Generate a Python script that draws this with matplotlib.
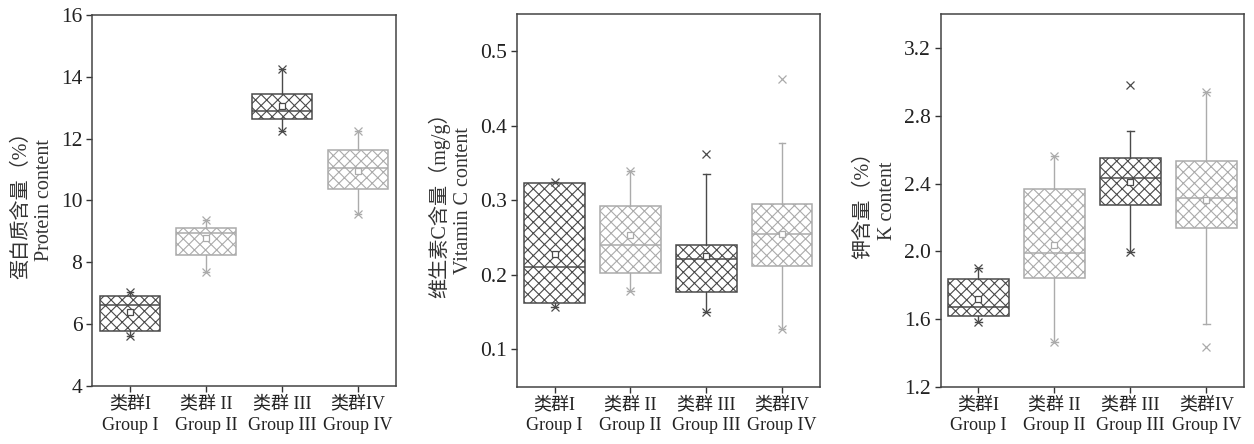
import numpy as np
import matplotlib
matplotlib.use("Agg")
import matplotlib.pyplot as plt

plt.rcParams['font.family'] = ['Liberation Serif', 'Noto Sans CJK SC', 'DejaVu Sans']
plt.rcParams['hatch.linewidth'] = 0.8

groups = ["类群I\nGroup I", "类群 II\nGroup II", "类群 III\nGroup III", "类群IV\nGroup IV"]

# protein content (%)
prot_q1 = [5.78, 8.23, 12.63, 10.38]
prot_med = [6.62, 8.94, 12.89, 11.06]
prot_q3 = [6.92, 9.11, 13.44, 11.62]
prot_mean = [6.38, 8.77, 13.04, 10.96]
prot_wlo = [5.63, 7.68, 12.25, 9.57]
prot_whi = [7.03, 9.37, 14.26, 12.26]
prot_xlo = [5.63, 7.68, 12.25, 9.57]
prot_xhi = [7.03, 9.37, 14.26, 12.26]

# vitamin C (mg/g)
vc_q1 = [0.162, 0.203, 0.177, 0.212]
vc_med = [0.211, 0.240, 0.221, 0.255]
vc_q3 = [0.323, 0.293, 0.240, 0.295]
vc_mean = [0.228, 0.254, 0.225, 0.255]
vc_wlo = [0.157, 0.179, 0.150, 0.127]
vc_whi = [0.325, 0.340, 0.336, 0.377]
vc_xlo = [0.157, 0.179, 0.150, 0.127]
vc_xhi = [0.325, 0.340, 0.362, 0.463]

# K content (%)
k_q1 = [1.620, 1.840, 2.272, 2.140]
k_med = [1.673, 1.990, 2.432, 2.317]
k_q3 = [1.838, 2.368, 2.548, 2.536]
k_mean = [1.718, 2.037, 2.412, 2.303]
k_wlo = [1.580, 1.462, 1.998, 1.572]
k_whi = [1.901, 2.560, 2.711, 2.940]
k_xlo = [1.580, 1.462, 1.998, 1.436]
k_xhi = [1.901, 2.560, 2.979, 2.940]

colors = ["#4a4a4a", "#ababab", "#4a4a4a", "#ababab"]

panels = [
    ("蛋白质含量（%）\nProtein content", (4, 16), [4, 6, 8, 10, 12, 14, 16], "{:.0f}",
     prot_q1, prot_med, prot_q3, prot_mean, prot_wlo, prot_whi, prot_xlo, prot_xhi,
     [0.0734, 0.1306, 0.2424, 0.836]),
    ("维生素C含量（mg/g）\nVitamin C content", (0.05, 0.55), [0.1, 0.2, 0.3, 0.4, 0.5], "{:.1f}",
     vc_q1, vc_med, vc_q3, vc_mean, vc_wlo, vc_whi, vc_xlo, vc_xhi,
     [0.412, 0.129, 0.2419, 0.839]),
    ("钾含量（%）\nK content", (1.2, 3.4), [1.2, 1.6, 2.0, 2.4, 2.8, 3.2], "{:.1f}",
     k_q1, k_med, k_q3, k_mean, k_wlo, k_whi, k_xlo, k_xhi,
     [0.750, 0.129, 0.2424, 0.839]),
]

fig = plt.figure(figsize=(12.54, 4.44), dpi=100)

for (ylab, ylim, yticks, fmt, q1, med, q3, mean, wlo, whi, xlo, xhi, pos) in panels:
    ax = fig.add_axes(pos)
    pos_x = np.arange(1, 5)
    for i in range(4):
        st = [dict(q1=q1[i], med=med[i], q3=q3[i], mean=mean[i],
                   whislo=wlo[i], whishi=whi[i], fliers=[])]
        c = colors[i]
        ax.bxp(st, positions=[pos_x[i]], widths=0.8, patch_artist=True,
               showmeans=True, capwidths=0.09,
               boxprops=dict(facecolor="white", edgecolor=c, linewidth=1.1, hatch="xxx"),
               medianprops=dict(color=c, linewidth=1.1),
               whiskerprops=dict(color=c, linewidth=1.0),
               capprops=dict(color=c, linewidth=1.0),
               meanprops=dict(marker="s", markersize=4.5, markerfacecolor="white",
                              markeredgecolor=c, markeredgewidth=0.9))
        ax.plot([pos_x[i], pos_x[i]], [xlo[i], xhi[i]], linestyle="none", marker="x",
                markersize=5.5, color=c, markeredgewidth=0.9)
    ax.set_xlim(0.5, 4.5)
    ax.set_ylim(*ylim)
    ax.set_yticks(yticks)
    ax.set_yticklabels([fmt.format(t) for t in yticks])
    ax.set_xticks(pos_x)
    ax.set_xticklabels(groups, fontsize=13, linespacing=1.3)
    ax.tick_params(axis="both", direction="out", length=4, width=1, color="#333333",
                   labelcolor="#222222")
    ax.tick_params(axis="y", labelsize=15.5, pad=3)
    ax.tick_params(axis="x", pad=3)
    for s in ax.spines.values():
        s.set_color("#444444")
        s.set_linewidth(1.1)
    ax.set_ylabel(ylab, fontsize=14.5, color="#333333", linespacing=1.3, labelpad=5)

fig.savefig("out.png", dpi=100)
